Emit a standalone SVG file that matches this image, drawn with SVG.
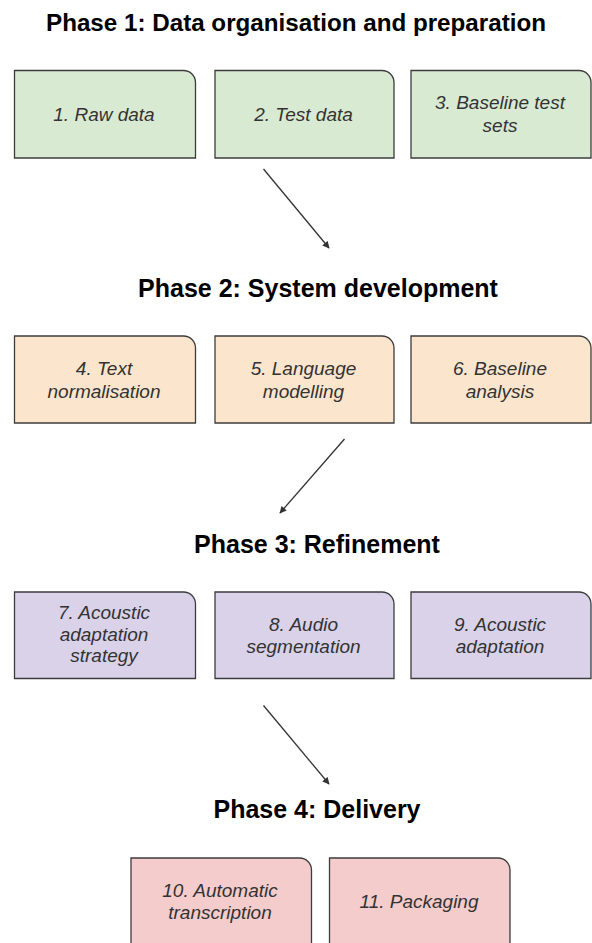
<svg xmlns="http://www.w3.org/2000/svg" width="592" height="943" viewBox="0 0 592 943">
<defs>
<style>
.title{font-family:"Liberation Sans",Arial,sans-serif;font-weight:bold;font-size:25px;fill:#000;text-anchor:middle}
.lbl{font-family:"Liberation Sans",Arial,sans-serif;font-style:italic;font-size:19px;fill:#333;text-anchor:middle}
.box{stroke:#3c3c3c;stroke-width:1.3}
.g{fill:#d9ead3}.o{fill:#fce5cd}.p{fill:#d9d2e9}.r{fill:#f4cccc}
.conn{stroke:#333;stroke-width:1.3;fill:none;marker-end:url(#ah)}
</style>
<marker id="ah" viewBox="0 0 10 10" refX="9" refY="5" markerWidth="8" markerHeight="7" markerUnits="userSpaceOnUse" orient="auto"><path d="M0,0 L10,5 L0,10 z" fill="#333"/></marker>
</defs>
<rect width="592" height="943" fill="#fff"/>

<text class="title" x="296" y="31" style="font-size:24.2px">Phase 1: Data organisation and preparation</text>
<text class="title" x="318" y="297">Phase 2: System development</text>
<text class="title" x="317" y="553">Phase 3: Refinement</text>
<text class="title" x="317" y="818">Phase 4: Delivery</text>

<g id="n1"><path class="box g" d="M14.5,70.5 H183.5 A12,12 0 0 1 195.5,82.5 V158 H14.5 Z"/><text class="lbl" x="104" y="121">1. Raw data</text></g>
<g id="n2"><path class="box g" d="M215,70.5 H382 A12,12 0 0 1 394,82.5 V158 H215 Z"/><text class="lbl" x="303.5" y="121">2. Test data</text></g>
<g id="n3"><path class="box g" d="M411,70.5 H579 A12,12 0 0 1 591,82.5 V158 H411 Z"/><text class="lbl" x="500" y="109">3. Baseline test</text><text class="lbl" x="500" y="132">sets</text></g>

<g id="n4"><path class="box o" d="M14.5,336 H183.5 A12,12 0 0 1 195.5,348 V423 H14.5 Z"/><text class="lbl" x="104" y="375">4. Text</text><text class="lbl" x="104" y="398">normalisation</text></g>
<g id="n5"><path class="box o" d="M215,336 H382 A12,12 0 0 1 394,348 V423 H215 Z"/><text class="lbl" x="303.5" y="375">5. Language</text><text class="lbl" x="303.5" y="398">modelling</text></g>
<g id="n6"><path class="box o" d="M411,336 H579 A12,12 0 0 1 591,348 V423 H411 Z"/><text class="lbl" x="500" y="375">6. Baseline</text><text class="lbl" x="500" y="398">analysis</text></g>

<g id="n7"><path class="box p" d="M14.5,592 H183.5 A12,12 0 0 1 195.5,604 V678.5 H14.5 Z"/><text class="lbl" x="104" y="619">7. Acoustic</text><text class="lbl" x="104" y="641">adaptation</text><text class="lbl" x="104" y="662">strategy</text></g>
<g id="n8"><path class="box p" d="M215,592 H382 A12,12 0 0 1 394,604 V678.5 H215 Z"/><text class="lbl" x="303.5" y="631">8. Audio</text><text class="lbl" x="303.5" y="653">segmentation</text></g>
<g id="n9"><path class="box p" d="M411,592 H579 A12,12 0 0 1 591,604 V678.5 H411 Z"/><text class="lbl" x="500" y="631">9. Acoustic</text><text class="lbl" x="500" y="653">adaptation</text></g>

<g id="n10"><path class="box r" d="M131,858 H299.5 A12,12 0 0 1 311.5,870 V950 H131 Z"/><text class="lbl" x="220" y="897">10. Automatic</text><text class="lbl" x="220" y="919">transcription</text></g>
<g id="n11"><path class="box r" d="M329.5,858 H498 A12,12 0 0 1 510,870 V950 H329.5 Z"/><text class="lbl" x="419" y="908">11. Packaging</text></g>

<g id="connectors">
<line class="conn" x1="263.5" y1="169" x2="329" y2="248"/>
<line class="conn" x1="344.5" y1="439" x2="280" y2="513"/>
<line class="conn" x1="263.5" y1="705.5" x2="329" y2="784"/>
</g>
</svg>
